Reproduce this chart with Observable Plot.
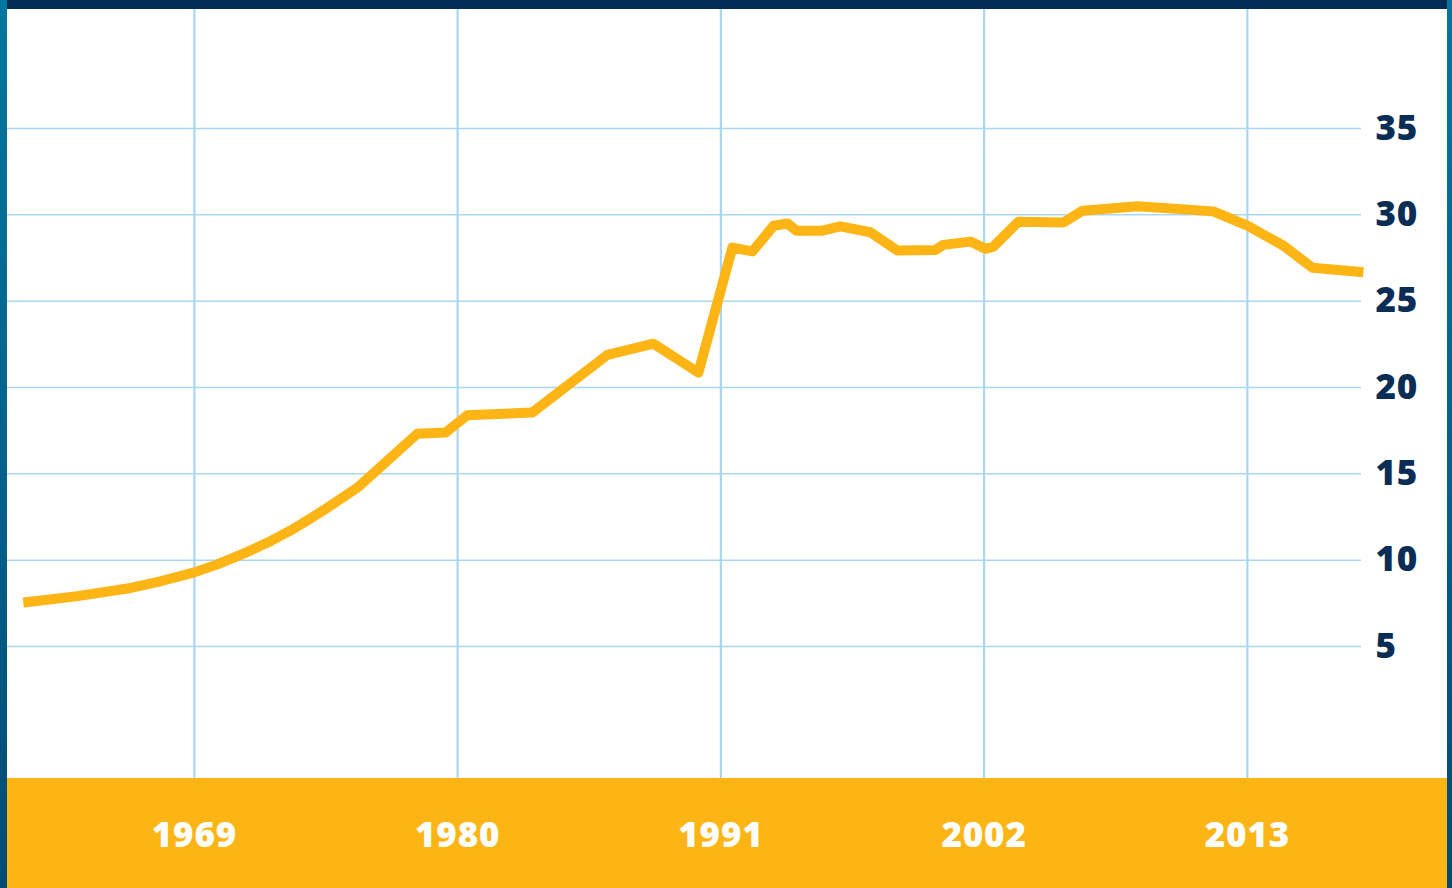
<!DOCTYPE html>
<html>
<head>
<meta charset="utf-8">
<script src="https://cdn.jsdelivr.net/npm/d3@7"></script>
<script src="https://cdn.jsdelivr.net/npm/@observablehq/plot@0.6"></script>
<style>
  html, body { margin: 0; padding: 0; }
  body {
    width: 1452px; height: 888px; overflow: hidden; position: relative;
    background: linear-gradient(180deg, #00779e 0%, #00608a 55%, #004b74 100%);
  }
  #topbar { position: absolute; left: 7px; top: 0; width: 1440px; height: 9px; background: #002c56; }
  #chart { position: absolute; left: 7px; top: 9px; width: 1440px; height: 879px; }
  #chart text { letter-spacing: 0.8px; }
</style>
</head>
<body>
<div id="topbar"></div>
<div id="chart"></div>
<script>
// Series (fractional years, values)
const years = [1961.85, 1962.69, 1964.11, 1966.2, 1967.58, 1968.96, 1969.96, 1971.05, 1972.18, 1973.14,
  1973.85, 1974.56, 1975.81, 1978.32, 1979.49, 1980.41, 1983.12, 1986.26, 1988.18, 1990.06,
  1991.48, 1992.32, 1993.2, 1993.78, 1994.16, 1995.24, 1995.99, 1997.25, 1998.38, 1999.96,
  2000.3, 2001.43, 2002.05, 2002.39, 2003.43, 2005.31, 2006.11, 2008.41, 2011.58, 2013.0,
  2014.51, 2015.72, 2017.85];
const values = [7.55, 7.68, 7.92, 8.36, 8.78, 9.28, 9.76, 10.38, 11.1, 11.82,
  12.42, 13.04, 14.2, 17.33, 17.39, 18.4, 18.55, 21.89, 22.54, 20.86,
  28.1, 27.88, 29.37, 29.5, 29.08, 29.08, 29.33, 28.99, 27.93, 27.97,
  28.26, 28.45, 28.03, 28.16, 29.6, 29.56, 30.24, 30.5, 30.2, 29.37,
  28.21, 26.94, 26.67];
const xTicks = [1969, 1980, 1991, 2002, 2013];
const yTicks = [5, 10, 15, 20, 25, 30, 35];

const data = years.map((y, i) => ({year: y, value: values[i]}));

const navy = "#0a2d55";
const gold = "#FDB515";
const grid = "#a9d7f1";
const font = "'Open Sans', sans-serif";

const chart = Plot.plot({
  width: 1440,
  height: 879,
  marginLeft: 0,
  marginRight: 86,
  marginTop: 0,
  marginBottom: 110,
  style: {
    background: `linear-gradient(180deg, #ffffff 0px, #ffffff 769px, ${gold} 769px, ${gold} 100%)`,
    overflow: "visible",
    fontFamily: font
  },
  x: {domain: [1961.19, 2017.77]},
  y: {domain: [-2.64, 41.89]},
  marks: [
    Plot.gridX(xTicks, {stroke: grid, strokeOpacity: 1, strokeWidth: 2.2}),
    Plot.gridY(yTicks, {stroke: grid, strokeOpacity: 1, strokeWidth: 1.5}),
    Plot.axisX(xTicks, {
      anchor: "bottom", tickSize: 0, tickPadding: 44, tickFormat: d => String(d),
      fontSize: 35, fontWeight: 800, fontFamily: font, fill: "#ffffff", label: null
    }),
    Plot.axisY(yTicks, {
      anchor: "right", tickSize: 0, tickPadding: 14, textAnchor: "start",
      fontSize: 35, fontWeight: 800, fontFamily: font, fill: navy, label: null
    }),
    Plot.line(data, {
      x: "year", y: "value", stroke: gold, strokeWidth: 10,
      strokeLinecap: "butt", strokeLinejoin: "round"
    })
  ]
});
document.getElementById("chart").appendChild(chart);
</script>
</body>
</html>
